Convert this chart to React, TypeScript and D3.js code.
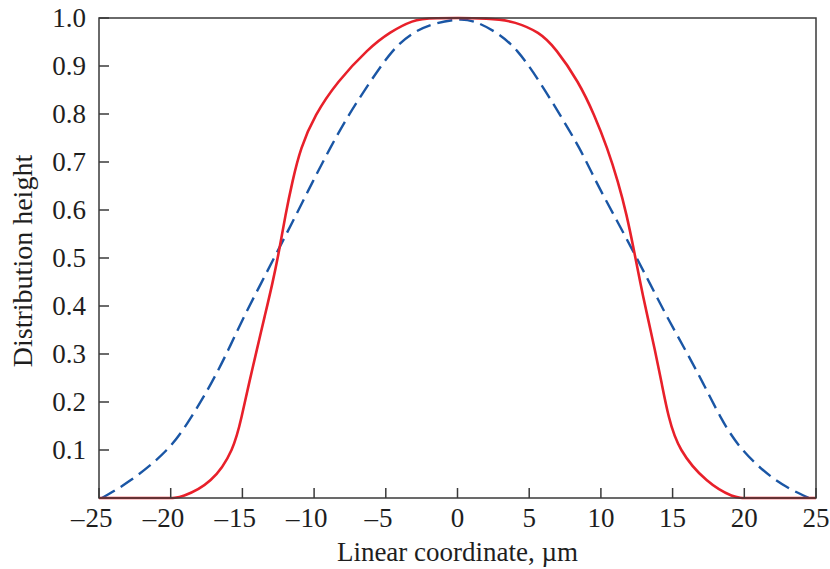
import React, { useEffect, useRef } from 'react';
import * as d3 from 'd3';

// solid red curve
const redX = [-25, -20, -19.3, -17.1, -15.6, -15.05, -14.54, -14.0, -13.45, -12.9, -12.42, -12.0, -11.52, -10.95, -9.95, -8.4, -6.2, -4.71, -3.08, -2, 2.5, 4.0, 5.7, 6.85, 8.45, 9.55, 10.45, 11.2, 11.8, 12.3, 12.75, 13.25, 13.77, 14.24, 14.7, 15.4, 17.38, 19.3, 20, 25];
const redY = [0, 0, 0, 0.031, 0.1, 0.169, 0.239, 0.308, 0.378, 0.447, 0.517, 0.59, 0.659, 0.729, 0.798, 0.867, 0.937, 0.971, 0.996, 1, 1, 0.992, 0.971, 0.937, 0.867, 0.798, 0.729, 0.659, 0.59, 0.517, 0.447, 0.378, 0.308, 0.239, 0.169, 0.1, 0.031, 0, 0, 0];

// dashed blue curve
const blueX = [-24.8, -22.96, -20.05, -18.54, -17.14, -15.98, -14.9, -13.7, -12.5, -11.25, -10.1, -8.89, -7.6, -6.1, -4.48, -3.08, -1.69, 0, 1.08, 2.73, 4.13, 5.75, 7.15, 8.54, 9.65, 10.9, 12.2, 13.42, 14.59, 15.9, 17.14, 18.3, 19.7, 22.26, 24.5];
const blueY = [0, 0.031, 0.1, 0.169, 0.239, 0.308, 0.378, 0.447, 0.517, 0.59, 0.659, 0.729, 0.798, 0.867, 0.937, 0.971, 0.989, 0.998, 0.996, 0.971, 0.937, 0.867, 0.798, 0.729, 0.659, 0.59, 0.517, 0.447, 0.378, 0.308, 0.239, 0.169, 0.1, 0.031, 0];

const xTicks = [-25, -20, -15, -10, -5, 0, 5, 10, 15, 20, 25];
const yTicks = [0.1, 0.2, 0.3, 0.4, 0.5, 0.6, 0.7, 0.8, 0.9, 1.0];

function App() {
  const ref = useRef<SVGSVGElement>(null);

  useEffect(() => {
    const width = 830;
    const height = 569;
    const margin = { top: 18, right: 14, bottom: 71, left: 99 };
    const w = width - margin.left - margin.right;
    const h = height - margin.top - margin.bottom;

    const svg = d3.select(ref.current);
    svg.selectAll('*').remove();

    const x = d3.scaleLinear().domain([-25, 25]).range([0, w]);
    const y = d3.scaleLinear().domain([0, 1]).range([h, 0]);

    const g = svg.append('g').attr('transform', `translate(${margin.left},${margin.top})`);
    const font = '"Liberation Serif", "DejaVu Serif", serif';
    const fs = 27;
    const axisColor = '#3a3a3a';
    const textColor = '#1e1e1e';

    const line = d3
      .line<[number, number]>()
      .x((d) => x(d[0]))
      .y((d) => y(d[1]))
      .curve(d3.curveBasis);

    const blue = blueX.map((v, i) => [v, blueY[i]] as [number, number]);
    const red = redX.map((v, i) => [v, redY[i]] as [number, number]);

    g.append('path')
      .datum(blue)
      .attr('fill', 'none')
      .attr('stroke', '#1a56a5')
      .attr('stroke-width', 2.4)
      .attr('stroke-dasharray', '15,7')
      .attr('d', line);

    g.append('path')
      .datum(red)
      .attr('fill', 'none')
      .attr('stroke', '#e8202a')
      .attr('stroke-width', 2.6)
      .attr('d', line);

    // frame
    g.append('rect')
      .attr('width', w)
      .attr('height', h)
      .attr('fill', 'none')
      .attr('stroke', axisColor)
      .attr('stroke-width', 1.5);

    // x ticks (inward)
    g.selectAll('.xt')
      .data(xTicks)
      .enter()
      .append('line')
      .attr('x1', (d) => x(d))
      .attr('x2', (d) => x(d))
      .attr('y1', h)
      .attr('y2', h - 10)
      .attr('stroke', axisColor)
      .attr('stroke-width', 1.5);

    // digits centred on the tick, the minus hangs to the left
    g.selectAll('.xl')
      .data(xTicks)
      .enter()
      .append('text')
      .attr('x', (d) => x(d))
      .attr('y', h + 29)
      .attr('text-anchor', 'middle')
      .attr('font-family', font)
      .attr('font-size', fs)
      .attr('fill', textColor)
      .text((d) => String(Math.abs(d)));

    g.selectAll('.xm')
      .data(xTicks.filter((d) => d < 0))
      .enter()
      .append('text')
      .attr('x', (d) => x(d) - (String(Math.abs(d)).length * fs * 0.5) / 2 - 1)
      .attr('y', h + 29)
      .attr('text-anchor', 'end')
      .attr('font-family', font)
      .attr('font-size', fs)
      .attr('fill', textColor)
      .text('\u2013');

    // y ticks (inward)
    g.selectAll('.yt')
      .data(yTicks)
      .enter()
      .append('line')
      .attr('x1', 0)
      .attr('x2', 10)
      .attr('y1', (d) => y(d))
      .attr('y2', (d) => y(d))
      .attr('stroke', axisColor)
      .attr('stroke-width', 1.5);

    g.selectAll('.yl')
      .data(yTicks)
      .enter()
      .append('text')
      .attr('x', -13)
      .attr('y', (d) => y(d) + 9)
      .attr('text-anchor', 'end')
      .attr('font-family', font)
      .attr('font-size', fs)
      .attr('fill', textColor)
      .text((d) => d.toFixed(1));

    g.append('text')
      .attr('x', w / 2)
      .attr('y', h + 63)
      .attr('text-anchor', 'middle')
      .attr('font-family', font)
      .attr('font-size', fs)
      .attr('fill', textColor)
      .text('Linear coordinate, \u00b5m');

    g.append('text')
      .attr('transform', `translate(${32 - margin.left},${261 - margin.top}) rotate(-90)`)
      .attr('text-anchor', 'middle')
      .attr('font-family', font)
      .attr('font-size', 28)
      .attr('fill', textColor)
      .text('Distribution height');
  }, []);

  return (
    <svg
      ref={ref}
      width={830}
      height={569}
      style={{ position: 'absolute', left: 0, top: 0, background: '#fff' }}
    ></svg>
  );
}

export default App;
